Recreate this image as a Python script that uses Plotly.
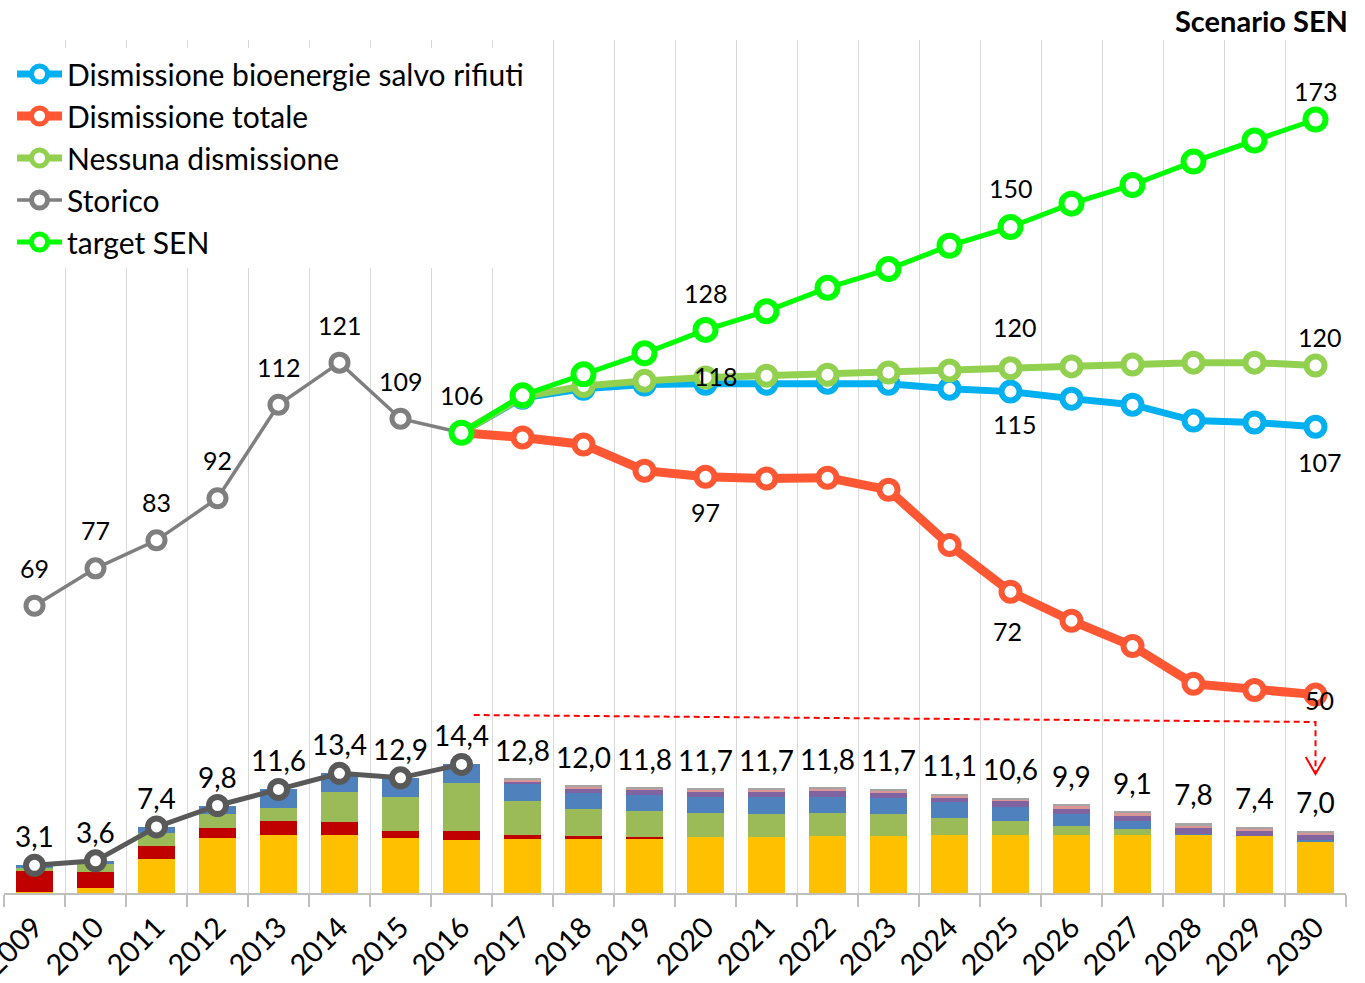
import plotly.graph_objects as go

# ---------------- data ----------------
anni = list(range(2009, 2031))
anni_storico = list(range(2009, 2017))
anni_scenario = list(range(2016, 2031))

storico = [69, 77, 83, 92, 112, 121, 109, 106]
target_sen = [106, 114, 118.5, 123, 128, 132, 137, 141, 146, 150, 155, 159, 164, 168.5, 173]
nessuna_dismissione = [106, 113.7, 116, 117.1, 117.8, 118.2, 118.4, 118.9, 119.3, 119.8, 120.2, 120.6, 121, 121, 120.4]
dismissione_bio = [106, 113.5, 115.4, 116.3, 116.5, 116.5, 116.7, 116.5, 115.4, 114.8, 113.3, 112, 108.6, 108.2, 107.3]
dismissione_totale = [106, 105, 103.5, 97.9, 96.6, 96.2, 96.4, 93.8, 82, 72, 65.8, 60.4, 52.3, 51, 50]

# stacked bar components (bottom panel)
bar_giallo = [0.1, 0.6, 3.8, 6.2, 6.5, 6.5, 6.2, 5.95, 6.1, 6.1, 6.1, 6.25, 6.25, 6.35, 6.35, 6.45, 6.45, 6.45, 6.45, 6.5, 6.35, 5.8]
bar_rosso = [2.4, 1.7, 1.5, 1.1, 1.6, 1.5, 0.8, 0.95, 0.37, 0.25, 0.2, 0, 0, 0, 0, 0, 0, 0, 0, 0, 0, 0]
bar_verde = [0.4, 1.0, 1.4, 1.6, 1.4, 3.3, 3.8, 5.4, 3.82, 3.05, 2.85, 2.75, 2.65, 2.65, 2.55, 1.95, 1.65, 1.1, 0.7, 0.1, 0, 0]
bar_blu = [0.2, 0.3, 0.7, 0.9, 2.1, 2.1, 2.1, 2.1, 1.87, 1.85, 1.85, 1.8, 1.85, 1.8, 1.75, 1.75, 1.55, 1.3, 0.9, 0.05, 0, 0.1]
bar_viola = [0, 0, 0, 0, 0, 0, 0, 0, 0.37, 0.5, 0.55, 0.55, 0.6, 0.6, 0.6, 0.5, 0.6, 0.6, 0.6, 0.65, 0.6, 0.55]
bar_rosa = [0, 0, 0, 0, 0, 0, 0, 0, 0.2, 0.2, 0.2, 0.2, 0.2, 0.25, 0.25, 0.3, 0.25, 0.3, 0.35, 0.3, 0.3, 0.3]
bar_altro = [0, 0, 0, 0, 0, 0, 0, 0, 0.07, 0.05, 0.05, 0.15, 0.15, 0.15, 0.2, 0.15, 0.1, 0.15, 0.1, 0.2, 0.15, 0.25]
totale_bar = [3.1, 3.6, 7.4, 9.8, 11.6, 13.4, 12.9, 14.4, 12.8, 12.0, 11.8, 11.7, 11.7, 11.8, 11.7, 11.1, 10.6, 9.9, 9.1, 7.8, 7.4, 7.0]
storico_bar = totale_bar[:8]

FONT = "Lato, 'Open Sans', sans-serif"

fig = go.Figure()

# ---------------- bottom panel: stacked bars ----------------
bar_series = [
    (bar_giallo, "#FFC000"),
    (bar_rosso, "#C00000"),
    (bar_verde, "#9BBB59"),
    (bar_blu, "#4F81BD"),
    (bar_viola, "#8064A2"),
    (bar_rosa, "#D99694"),
    (bar_altro, "#A5A5A5"),
]
for vals, col in bar_series:
    fig.add_trace(go.Bar(x=anni, y=vals, marker=dict(color=col, line=dict(width=0)),
                         width=0.6, xaxis="x2", yaxis="y2", showlegend=False,
                         hoverinfo="skip"))

fig.add_trace(go.Scatter(x=anni_storico, y=storico_bar, mode="lines+markers",
                         line=dict(color="#595959", width=5),
                         marker=dict(symbol="circle", size=17, color="white",
                                     line=dict(color="#595959", width=6)),
                         xaxis="x2", yaxis="y2", showlegend=False, hoverinfo="skip"))

# ---------------- top panel: lines ----------------
def line_trace(x, y, name, color, lw, msize, mlw, rank):
    return go.Scatter(x=x, y=y, name=name, mode="lines+markers",
                      line=dict(color=color, width=lw),
                      marker=dict(symbol="circle", size=msize, color="white",
                                  line=dict(color=color, width=mlw)),
                      legendrank=rank, legendgroup=name,
                      xaxis="x", yaxis="y")

fig.add_trace(line_trace(anni_storico, storico, "Storico", "#7F7F7F", 3.5, 17, 5, 4))
fig.add_trace(line_trace(anni_scenario, dismissione_bio, "Dismissione bioenergie salvo rifiuti", "#00B0F0", 7, 18, 6, 1))
fig.add_trace(line_trace(anni_scenario, dismissione_totale, "Dismissione totale", "#FF5733", 9, 18, 6, 2))
fig.add_trace(line_trace(anni_scenario, nessuna_dismissione, "Nessuna dismissione", "#92D050", 7, 18, 6, 3))
fig.add_trace(line_trace(anni_scenario, target_sen, "target SEN", "#00FF00", 5, 20, 6, 5))

# ---------------- labels ----------------
def fmt_it(v, dec=0):
    return (f"{v:.{dec}f}").replace(".", ",")

annotations = []
def lab(x, y, text, xs, ys, axis, size):
    annotations.append(dict(x=x, y=y, xref="x" if axis == 1 else "x2",
                            yref="y" if axis == 1 else "y2", text=text,
                            showarrow=False, xshift=xs, yshift=ys,
                            font=dict(family=FONT, size=size, color="black")))

TOPSZ = 25
for x, v in zip(anni_storico, storico):
    lab(x, v, fmt_it(v), 0, 38, 1, TOPSZ)
# target SEN labels
for yr, ys in [(2020, 37), (2025, 39), (2030, 28)]:
    i = anni_scenario.index(yr)
    lab(yr, target_sen[i], fmt_it(target_sen[i]), 0, ys, 1, TOPSZ)
# nessuna dismissione
i = anni_scenario.index(2020)
lab(2020, nessuna_dismissione[i], fmt_it(nessuna_dismissione[i]), 10, 2, 1, TOPSZ)
for yr, ys in [(2025, 41), (2030, 28)]:
    i = anni_scenario.index(yr)
    lab(yr, nessuna_dismissione[i], fmt_it(nessuna_dismissione[i]), 4, ys, 1, TOPSZ)
# dismissione bio
for yr, ys in [(2025, -32), (2030, -35)]:
    i = anni_scenario.index(yr)
    lab(yr, dismissione_bio[i], fmt_it(dismissione_bio[i]), 4, ys, 1, TOPSZ)
# dismissione totale
for yr, xs, ys in [(2020, 0, -35), (2025, -3, -39), (2030, 4, -5)]:
    i = anni_scenario.index(yr)
    lab(yr, dismissione_totale[i], fmt_it(dismissione_totale[i]), xs, ys, 1, TOPSZ)
# bar totals
for x, v in zip(anni, totale_bar):
    lab(x, v, fmt_it(v, 1), 0, 29, 2, 28)

annotations.append(dict(x=1.003, y=1.0234, xref="paper", yref="paper", xanchor="right",
                        yanchor="middle", text="<b>Scenario SEN</b>", showarrow=False,
                        font=dict(family=FONT, size=29, color="black")))

# ---------------- red dashed arrow ----------------
PLOT_TOP, PLOT_BOTTOM = 40, 893
def py(p):
    return (PLOT_BOTTOM - p) / (PLOT_BOTTOM - PLOT_TOP)

shapes = [
    dict(type="path", xref="x2", yref="paper",
         path=f"M 2016.2 {py(715)} L 2030 {py(722)} L 2030 {py(773)}",
         line=dict(color="#FF0000", width=2, dash="6px,4px")),
    dict(type="path", xref="x2", yref="paper",
         path=f"M 2029.84 {py(757)} L 2030 {py(774)} L 2030.16 {py(757)}",
         line=dict(color="#FF0000", width=2)),
]

split = py(718)

fig.update_layout(
    width=1365, height=983,
    margin=dict(l=4, r=19, t=PLOT_TOP, b=983 - PLOT_BOTTOM, autoexpand=False),
    paper_bgcolor="white", plot_bgcolor="white",
    barmode="stack", bargap=0.4,
    separators=",.",
    font=dict(family=FONT, color="black"),
    showlegend=True,
    legend=dict(x=0.006, y=py(48), xanchor="left", yanchor="top",
                bgcolor="white", font=dict(family=FONT, size=30, color="black"),
                traceorder="grouped", tracegroupgap=0, itemwidth=45,
                borderwidth=0),
    xaxis=dict(domain=[0, 1], anchor="y", range=[2008.5, 2030.5],
               showgrid=False, showticklabels=False, ticks="", zeroline=False,
               showline=False,
               minor=dict(tick0=2008.5, dtick=1, showgrid=True, gridcolor="#D9D9D9",
                          gridwidth=1, ticks="")),
    yaxis=dict(domain=[split, 1], range=[45, 190], visible=False, showgrid=False),
    xaxis2=dict(domain=[0, 1], anchor="y2", range=[2008.5, 2030.5],
                tickmode="array", tickvals=anni, ticktext=[str(a) for a in anni],
                tickangle=-45, ticks="", showgrid=False, zeroline=False,
                showline=True, linecolor="#BFBFBF", linewidth=1.5, automargin=False,
                ticklabeloverflow="allow", ticklabelstandoff=4,
                tickfont=dict(family=FONT, size=29, color="black"),
                minor=dict(tick0=2008.5, dtick=1, showgrid=True, gridcolor="#D9D9D9",
                           gridwidth=1, ticks="outside", ticklen=12,
                           tickcolor="#BFBFBF", tickwidth=1.5)),
    yaxis2=dict(domain=[0, split], range=[0, 19.6], visible=False, showgrid=False),
    annotations=annotations,
    shapes=shapes,
)

fig.write_html("out.html", config={"displayModeBar": False},
               post_script="document.body.style.margin='0';document.body.style.overflow='hidden';")
